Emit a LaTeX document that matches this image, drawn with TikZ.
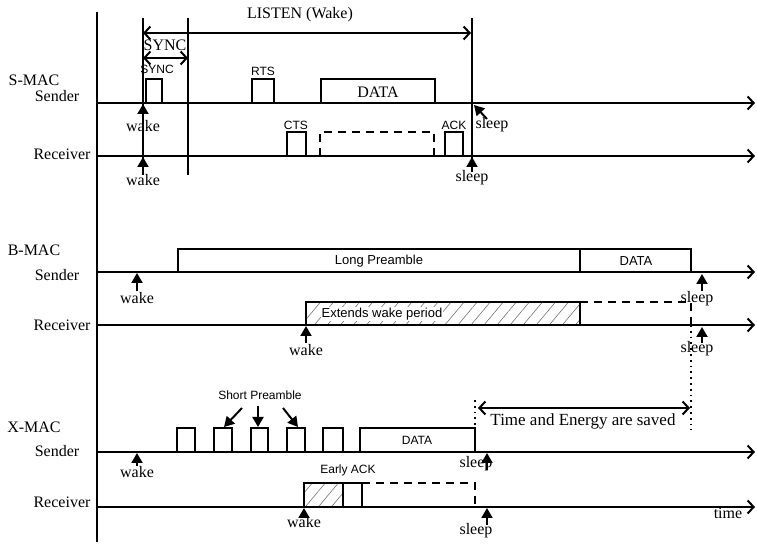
\documentclass[tikz,border=0pt]{standalone}
\usepackage{fontspec}
\setmainfont{Liberation Serif}
\setsansfont{Liberation Sans}
\usetikzlibrary{arrows.meta, patterns.meta, positioning}

\begin{document}
\begin{tikzpicture}[
    x=0.5pt, y=-0.5pt,
    axis/.style={draw, line width=0.9pt, -{Straight Barb[length=3pt,width=6.5pt,line width=1pt]}},
    span/.style={draw, line width=0.9pt, {Straight Barb[length=3pt,width=6.5pt,line width=1pt]}-{Straight Barb[length=3pt,width=6.5pt,line width=1pt]}},
    pkt/.style={draw, line width=0.7pt},
    idle/.style={draw, line width=0.7pt, dash pattern=on 4pt off 3pt},
    hatch/.style={draw, line width=0.7pt, pattern={Lines[angle=50,distance=5pt,line width=0.3pt]}, pattern color=black!55},
    pointer/.style={draw, line width=1pt, -{Triangle[length=5pt,width=5.5pt]}},
    guide/.style={draw, line width=0.8pt},
    saved/.style={draw, line width=0.9pt, dotted},
    lbl/.style={font=\fontsize{8}{9}\selectfont, inner sep=0pt},
    tag/.style={font=\sffamily\fontsize{6}{7}\selectfont, inner sep=0pt}
]
\useasboundingbox (0,0) rectangle (757,544);

% main axis
\draw[guide, line width=1pt] (97,12) -- (97,542);

% S-MAC
\node[lbl] (smac) at (34,80) {S-MAC};
\node[lbl] (ssnd) at (57,96) {Sender};
\node[lbl] (srcv) at (62,154) {Receiver};
\draw[axis] (97,103) -- (755,103);
\draw[axis] (97,156) -- (755,156);
\draw[guide] (143,18) -- (143,175);
\draw[guide] (188,18) -- (188,175);
\draw[guide] (472,18) -- (472,160);
\node[lbl] (listen) at (300,15) {LISTEN (Wake)};
\draw[span] (143,33) -- (471,33);
\node[lbl] (syncp) at (165,45) {SYNC};
\draw[span] (143,58) -- (188,58);

\draw[pkt] (146,103) |- (162,79) -- (162,103);
\node[tag] (sync) at (157,69) {SYNC};
\draw[pkt] (252,103) |- (274,79) -- (274,103);
\node[tag] (rts) at (263,71) {RTS};
\draw[pkt] (321,103) |- (435,79) -- (435,103);
\node[lbl] (sdata) at (378,92) {DATA};
\draw[pkt] (287,156) |- (306,132) -- (306,156);
\node[tag] (cts) at (296,125) {CTS};
\draw[idle] (320,156) |- (434,132) -- (434,156);
\draw[pkt] (445,156) |- (463,132) -- (463,156);
\node[tag] (ack) at (454,125) {ACK};

\node[lbl] (swake1) at (143,126) {wake};
\draw[pointer] (143,120) -- (143,104);
\node[lbl] (swake2) at (143,180) {wake};
\draw[pointer] (143,174) -- (143,157);
\node[lbl] (ssleep1) at (492,125) {sleep};
\draw[pointer] (487,119) -- (474,105);
\node[lbl] (ssleep2) at (472,178) {sleep};
\draw[pointer] (472,172) -- (472,157);

% B-MAC
\node[lbl] (bmac) at (34,250) {B-MAC};
\node[lbl] (bsnd) at (57,275) {Sender};
\node[lbl] (brcv) at (62,325) {Receiver};
\draw[axis] (97,272) -- (755,272);
\draw[axis] (97,325) -- (755,325);

\draw[pkt] (178,272) |- (580,249) -- (580,272);
\node[tag, font=\sffamily\fontsize{6.5}{7}\selectfont] (lpre) at (379,261) {Long Preamble};
\draw[pkt] (580,249) -| (691,272);
\node[tag, font=\sffamily\fontsize{6.5}{7}\selectfont] (bdata) at (636,261) {DATA};
\draw[hatch] (306,325) rectangle (580,302);
\node[tag, font=\sffamily\fontsize{6.5}{7}\selectfont, fill=white, inner sep=0.5pt] (ext) at (382,314) {Extends wake period};
\draw[idle] (580,302) -- (691,302) -- (691,325);
\draw[saved] (691,325) -- (691,430);

\node[lbl] (bwake1) at (137,298) {wake};
\draw[pointer] (137,291) -- (137,273);
\node[lbl] (bwake2) at (306,350) {wake};
\draw[pointer] (306,343) -- (306,326);
\node[lbl] (bsleep1) at (697,299) {sleep};
\draw[pointer] (702,291) -- (702,274);
\node[lbl] (bsleep2) at (697,349) {sleep};
\draw[pointer] (702,343) -- (702,327);

% X-MAC
\node[lbl] (xmac) at (34,427) {X-MAC};
\node[lbl] (xsnd) at (57,451) {Sender};
\node[lbl] (xrcv) at (62,502) {Receiver};
\draw[axis] (97,452) -- (755,452);
\draw[axis] (97,507) -- (755,507);

\foreach \a/\b in {177/195, 214/232, 251/268, 287/305, 323/343}
    \draw[pkt] (\a,452) |- (\b,428) -- (\b,452);
\node[tag] (spre) at (260,395) {Short Preamble};
\draw[pointer] (242,408) -- (224,427);
\draw[pointer] (258,406) -- (258,427);
\draw[pointer] (283,408) -- (298,427);
\draw[pkt] (360,452) |- (475,428) -- (475,452);
\node[tag] (xdata) at (417,440) {DATA};

\draw[hatch] (304,507) rectangle (343,483);
\draw[pkt] (343,507) |- (362,483) -- (362,507);
\node[tag] (eack) at (348,470) {Early ACK};
\draw[idle] (362,483) -- (475,483) -- (475,507);

\draw[saved] (475,400) -- (475,428);
\draw[span] (478,408) -- (690,408);
\node[lbl, font=\fontsize{8.5}{9}\selectfont] (tsave) at (583,421) {Time and Energy are saved};
\node[lbl] (time) at (728,513) {time};

\node[lbl] (xwake1) at (137,472) {wake};
\draw[pointer] (137,466) -- (137,453);
\node[lbl] (xwake2) at (304,522) {wake};
\draw[pointer] (304,517) -- (304,508);
\node[lbl] (xsleep1) at (476,464) {sleep};
\draw[pointer] (487,470) -- (487,453);
\node[lbl] (xsleep2) at (476,531) {sleep};
\draw[pointer] (487,525) -- (487,508);

\end{tikzpicture}
\end{document}
